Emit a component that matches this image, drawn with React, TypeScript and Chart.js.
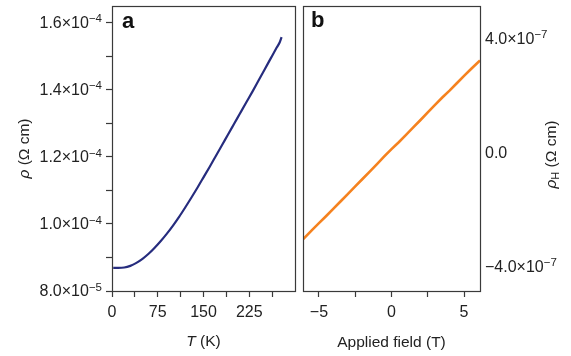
import React, { useEffect, useRef } from 'react';
import { Chart, registerables } from 'chart.js';

Chart.register(...registerables);

// ---- Panel a: resistivity vs temperature ----
const temperatureK = [2, 10, 20, 30, 40, 50, 60, 70, 80, 90, 100, 110, 120, 130, 140, 150, 160, 170, 180, 190, 200, 210, 220, 230, 240, 250, 260, 270, 275, 278];
const resistivity = [
  8.69e-5, 8.69e-5, 8.7e-5, 8.75e-5, 8.84e-5, 8.96e-5, 9.11e-5, 9.29e-5, 9.49e-5, 9.71e-5,
  9.95e-5, 10.21e-5, 10.49e-5, 10.78e-5, 11.08e-5, 11.39e-5, 11.7e-5, 12.02e-5, 12.34e-5, 12.66e-5,
  12.98e-5, 13.3e-5, 13.62e-5, 13.94e-5, 14.27e-5, 14.6e-5, 14.93e-5, 15.26e-5, 15.42e-5, 15.57e-5,
];
const tempTicks = [0, 37.5, 75, 112.5, 150, 187.5, 225, 262.5];
const tempLabeled = [0, 75, 150, 225];
const rhoTicks = [8e-5, 9e-5, 10e-5, 11e-5, 12e-5, 13e-5, 14e-5, 15e-5, 16e-5];
const rhoLabelValues = [8e-5, 10e-5, 12e-5, 14e-5, 16e-5];
const rhoLabelMantissa = ['8.0×10', '1.0×10', '1.2×10', '1.4×10', '1.6×10'];
const rhoLabelExponent = ['−5', '−4', '−4', '−4', '−4'];

// ---- Panel b: Hall resistivity vs applied field ----
const fieldT = [-6.1, -5.5, -5.0, -4.5, -4.0, -3.5, -3.0, -2.5, -2.0, -1.5, -1.0, -0.5, 0, 0.5, 1.0, 1.5, 2.0, 2.5, 3.0, 3.5, 4.0, 4.5, 5.0, 5.5, 6.1];
const hallResistivity = [
  -3.04e-7, -2.72e-7, -2.47e-7, -2.22e-7, -1.96e-7, -1.7e-7, -1.44e-7, -1.18e-7, -0.92e-7, -0.66e-7,
  -0.4e-7, -0.13e-7, 0.13e-7, 0.37e-7, 0.63e-7, 0.89e-7, 1.15e-7, 1.42e-7, 1.68e-7, 1.94e-7,
  2.18e-7, 2.44e-7, 2.7e-7, 2.95e-7, 3.24e-7,
];
const fieldTicks = [-5, -2.5, 0, 2.5, 5];
const fieldLabeled = [-5, 0, 5];
const fieldLabels = ['−5', '0', '5'];
const hallTicks = [-4e-7, 0, 4e-7];
const hallLabelMantissa = ['−4.0×10', '0.0', '4.0×10'];
const hallLabelExponent = ['−7', '', '−7'];

const FONT = '"Liberation Sans", Arial, sans-serif';
const TEXT = '#222';
const AXIS = '#3a3a3a';

type Run = { t: string; f: string; dy?: number };

function runsWidth(ctx: CanvasRenderingContext2D, runs: Run[]) {
  let total = 0;
  for (const r of runs) {
    ctx.font = r.f;
    total += ctx.measureText(r.t).width;
  }
  return total;
}

function drawRuns(ctx: CanvasRenderingContext2D, runs: Run[], px: number, py: number, rot: number, align: 'left' | 'center' | 'right' = 'center') {
  ctx.save();
  ctx.translate(px, py);
  ctx.rotate(rot);
  const total = runsWidth(ctx, runs);
  let x = align === 'center' ? -total / 2 : align === 'right' ? -total : 0;
  ctx.textBaseline = 'middle';
  ctx.textAlign = 'left';
  ctx.fillStyle = TEXT;
  for (const r of runs) {
    ctx.font = r.f;
    ctx.fillText(r.t, x, r.dy || 0);
    x += ctx.measureText(r.t).width;
  }
  ctx.restore();
}

function sciRuns(mant: string, exp: string): Run[] {
  const runs: Run[] = [{ t: mant, f: `16px ${FONT}` }];
  if (exp) runs.push({ t: exp, f: `11.5px ${FONT}`, dy: -4.5 });
  return runs;
}

function labelFor(v: number, values: number[], labels: string[], tol: number) {
  const i = values.findIndex((u) => Math.abs(u - v) < tol);
  return i >= 0 ? labels[i] : '';
}

function makeDecor(panel: 'a' | 'b') {
  return {
    id: 'decor' + panel,
    afterDraw(chart: any) {
      const ctx: CanvasRenderingContext2D = chart.ctx;
      const a = chart.chartArea;
      const yScale = chart.scales.y;
      ctx.save();
      ctx.strokeStyle = AXIS;
      ctx.lineWidth = 1.2;
      ctx.strokeRect(Math.round(a.left) + 0.5, Math.round(a.top) + 0.5, Math.round(a.right - a.left), Math.round(a.bottom - a.top));
      ctx.fillStyle = '#111';
      ctx.font = `bold 22px ${FONT}`;
      ctx.textBaseline = 'alphabetic';
      ctx.textAlign = 'left';
      const cy = (a.top + a.bottom) / 2;
      const cx = (a.left + a.right) / 2;
      if (panel === 'a') {
        ctx.fillText('a', a.left + 10, 28);
        rhoLabelValues.forEach((v, i) => {
          drawRuns(ctx, sciRuns(rhoLabelMantissa[i], rhoLabelExponent[i]), a.left - 10, yScale.getPixelForValue(v) + 1, 0, 'right');
        });
        drawRuns(ctx, [
          { t: 'ρ', f: `italic 15.5px ${FONT}` },
          { t: ' (Ω cm)', f: `15.5px ${FONT}` },
        ], 25, cy, -Math.PI / 2);
        drawRuns(ctx, [
          { t: 'T', f: `italic 15.5px ${FONT}` },
          { t: ' (K)', f: `15.5px ${FONT}` },
        ], cx, 342, 0);
      } else {
        ctx.fillText('b', a.left + 8, 27);
        hallTicks.forEach((v, i) => {
          drawRuns(ctx, sciRuns(hallLabelMantissa[i], hallLabelExponent[i]), a.right + 5, yScale.getPixelForValue(v) + 1, 0, 'left');
        });
        drawRuns(ctx, [
          { t: 'ρ', f: `italic 15.5px ${FONT}` },
          { t: 'H', f: `11px ${FONT}`, dy: 4 },
          { t: ' (Ω cm)', f: `15.5px ${FONT}` },
        ], a.right + 72, cy + 6, -Math.PI / 2);
        drawRuns(ctx, [{ t: 'Applied field (T)', f: `15.5px ${FONT}` }], cx, 343, 0);
      }
      ctx.restore();
    },
  };
}

const tickFont = { family: FONT, size: 16 };

function configA(): any {
  return {
    type: 'line',
    data: {
      datasets: [{
        data: temperatureK.map((t, i) => ({ x: t, y: resistivity[i] })),
        borderColor: '#262c7e',
        borderWidth: 2.2,
        pointRadius: 0,
        cubicInterpolationMode: 'monotone',
        fill: false,
      }],
    },
    options: {
      animation: false,
      responsive: false,
      maintainAspectRatio: false,
      layout: { padding: { top: 6, right: 5, bottom: 0, left: 0 } },
      plugins: { legend: { display: false }, tooltip: { enabled: false } },
      scales: {
        x: {
          type: 'linear',
          min: 0,
          max: 300,
          afterBuildTicks: (s: any) => { s.ticks = tempTicks.map((v) => ({ value: v })); },
          afterFit: (s: any) => { s.height = 65; s.paddingLeft = 0; s.paddingRight = 0; },
          grid: { drawOnChartArea: false, drawTicks: true, tickLength: 6, tickColor: AXIS, tickWidth: 1.2 },
          border: { display: false },
          ticks: {
            padding: 6, font: tickFont, color: TEXT, maxRotation: 0, autoSkip: false,
            callback: (v: number) => (tempLabeled.some((u) => Math.abs(u - v) < 1e-6) ? String(v) : ''),
          },
        },
        y: {
          type: 'linear',
          position: 'left',
          min: 8e-5,
          max: 16.5e-5,
          afterBuildTicks: (s: any) => { s.ticks = rhoTicks.map((v) => ({ value: v })); },
          afterFit: (s: any) => { s.width = 112; s.paddingTop = 0; s.paddingBottom = 0; },
          grid: { drawOnChartArea: false, drawTicks: true, tickLength: 6, tickColor: AXIS, tickWidth: 1.2 },
          border: { display: false },
          ticks: { padding: 4, font: tickFont, color: TEXT, autoSkip: false, callback: () => '' },
        },
      },
    },
    plugins: [makeDecor('a')],
  };
}

function configB(): any {
  return {
    type: 'line',
    data: {
      datasets: [{
        data: fieldT.map((b, i) => ({ x: b, y: hallResistivity[i] })),
        borderColor: '#f5821f',
        borderWidth: 2.6,
        pointRadius: 0,
        tension: 0,
        fill: false,
      }],
    },
    options: {
      animation: false,
      responsive: false,
      maintainAspectRatio: false,
      layout: { padding: { top: 6, right: 0, bottom: 0, left: 3 } },
      plugins: { legend: { display: false }, tooltip: { enabled: false } },
      scales: {
        x: {
          type: 'linear',
          min: -6.1,
          max: 6.1,
          afterBuildTicks: (s: any) => { s.ticks = fieldTicks.map((v) => ({ value: v })); },
          afterFit: (s: any) => { s.height = 65; s.paddingLeft = 0; s.paddingRight = 0; },
          grid: { drawOnChartArea: false, drawTicks: true, tickLength: 6, tickColor: AXIS, tickWidth: 1.2 },
          border: { display: false },
          ticks: {
            padding: 6, font: tickFont, color: TEXT, maxRotation: 0, autoSkip: false,
            callback: (v: number) => labelFor(v, fieldLabeled, fieldLabels, 1e-6),
          },
        },
        y: {
          type: 'linear',
          position: 'right',
          min: -4.85e-7,
          max: 5.15e-7,
          afterBuildTicks: (s: any) => { s.ticks = hallTicks.map((v) => ({ value: v })); },
          afterFit: (s: any) => { s.width = 91; s.paddingTop = 0; s.paddingBottom = 0; },
          grid: { drawOnChartArea: false, drawTicks: false },
          border: { display: false },
          ticks: { padding: 5, font: tickFont, color: TEXT, autoSkip: false, callback: () => '' },
        },
      },
    },
    plugins: [makeDecor('b')],
  };
}

export default function App() {
  const refA = useRef<HTMLCanvasElement | null>(null);
  const refB = useRef<HTMLCanvasElement | null>(null);

  useEffect(() => {
    const ca = new Chart(refA.current as HTMLCanvasElement, configA());
    const cb = new Chart(refB.current as HTMLCanvasElement, configB());
    return () => {
      ca.destroy();
      cb.destroy();
    };
  }, []);

  return (
    <div style={{ position: 'absolute', left: 0, top: 0, width: 571, height: 356, background: '#fff' }}>
      <canvas ref={refA} width={300} height={356} style={{ position: 'absolute', left: 0, top: 0, width: 300, height: 356 }} />
      <canvas ref={refB} width={271} height={356} style={{ position: 'absolute', left: 300, top: 0, width: 271, height: 356 }} />
    </div>
  );
}
